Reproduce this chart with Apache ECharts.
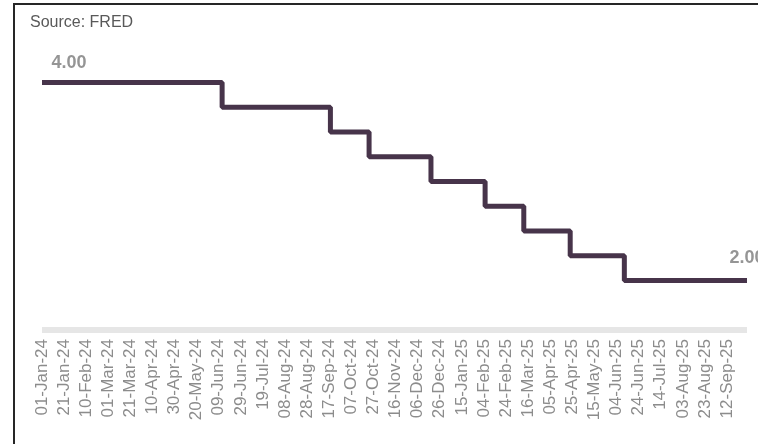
<!DOCTYPE html>
<html>
<head>
<meta charset="utf-8">
<script src="https://cdn.jsdelivr.net/npm/echarts@6/dist/echarts.min.js"></script>
<style>
html,body{margin:0;padding:0;background:#fff;overflow:hidden;}
#chart{position:absolute;left:0;top:0;width:758px;height:444px;}
#frame{position:absolute;left:13px;top:3px;width:900px;height:600px;border-left:2px solid #262626;border-top:2px solid #262626;pointer-events:none;}
</style>
</head>
<body>
<div id="chart"></div>
<div id="frame"></div>
<script>
// ECB deposit facility rate (source: FRED) - change dates and levels
var changeDates = ['2024-01-01','2024-06-12','2024-09-18','2024-10-23','2024-12-18','2025-02-05','2025-03-12','2025-04-23','2025-06-11','2025-09-30'];
var rateValues  = [4.00, 3.75, 3.50, 3.25, 3.00, 2.75, 2.50, 2.25, 2.00, 2.00];
var startDate = '2024-01-01';
var endDate = '2025-09-30';
var tickStepDays = 20;
var sourceText = 'Source: FRED';

var MS_DAY = 86400000;
function toUTC(s){var p=s.split('-');return Date.UTC(+p[0],+p[1]-1,+p[2]);}
var t0 = toUTC(startDate);
function dayOffset(s){return Math.round((toUTC(s)-t0)/MS_DAY);}
var MONTHS=['Jan','Feb','Mar','Apr','May','Jun','Jul','Aug','Sep','Oct','Nov','Dec'];
function fmtDay(v){
  var d=new Date(t0+v*MS_DAY);
  var dd=('0'+d.getUTCDate()).slice(-2);
  var yy=('0'+(d.getUTCFullYear()%100)).slice(-2);
  return dd+'-'+MONTHS[d.getUTCMonth()]+'-'+yy;
}

var lastIdx = changeDates.length-1;
var lineData = changeDates.map(function(s,i){ return [dayOffset(s), rateValues[i]]; });
var labelData = [
  {value:lineData[0], label:{offset:[27,-10]}},
  {value:lineData[lastIdx], label:{offset:[0,-13]}}
];

var chart = echarts.init(document.getElementById('chart'), null, {renderer:'canvas'});
chart.setOption({
  animation:false,
  backgroundColor:'#ffffff',
  title:{
    text:sourceText,left:30,top:15,padding:0,
    textStyle:{fontFamily:'Liberation Sans, Arial, sans-serif',fontSize:16,fontWeight:'normal',color:'#595959'}
  },
  grid:{left:42,right:11,top:33,bottom:114,containLabel:false},
  xAxis:{
    type:'value',min:0,max:dayOffset(endDate),interval:tickStepDays,
    axisLine:{show:true,lineStyle:{color:'#e6e6e6',width:6,cap:'butt'}},
    axisTick:{show:false},
    splitLine:{show:false},
    axisLabel:{
      rotate:90,margin:9,showMaxLabel:false,
      fontFamily:'Liberation Sans, Arial, sans-serif',fontSize:17,color:'#8c8c8c',
      formatter:function(v){return (v%tickStepDays===0)?fmtDay(v):'';}
    }
  },
  yAxis:{
    type:'value',min:1.5,max:4.5,show:false,splitLine:{show:false}
  },
  series:[{
    type:'line',step:'end',showSymbol:false,symbol:'none',
    data:lineData,
    lineStyle:{color:'#47344a',width:5}
  },{
    type:'scatter',symbol:'circle',symbolSize:1,
    data:labelData,
    itemStyle:{color:'rgba(0,0,0,0)'},
    label:{
      show:true,position:'top',distance:0,
      fontFamily:'Liberation Sans, Arial, sans-serif',fontSize:18,fontWeight:'bold',color:'#7a7a7a',
      formatter:function(p){return p.value[1].toFixed(2);}
    }
  }]
});
</script>
</body>
</html>
